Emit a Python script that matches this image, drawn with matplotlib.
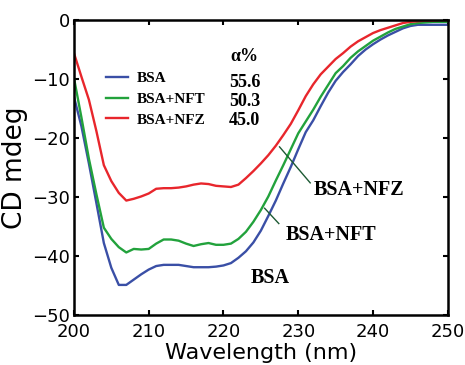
import numpy as np
import matplotlib
matplotlib.use('Agg')
import matplotlib.pyplot as plt

# wavelength grid (nm) and CD signal (mdeg)
wavelength = np.arange(200, 251, 1)

cd_bsa = [-13.0, -18.0, -24.3, -31.0, -37.8, -42.0, -44.9, -44.9, -44.0, -43.1,
          -42.3, -41.7, -41.5, -41.5, -41.5, -41.7, -41.9, -41.9, -41.9, -41.8,
          -41.6, -41.2, -40.3, -39.2, -37.7, -35.7, -33.2, -30.6, -27.7, -24.9,
          -21.9, -19.0, -17.0, -14.6, -12.3, -10.3, -8.8, -7.5, -6.1, -5.0,
          -4.1, -3.3, -2.6, -2.0, -1.4, -1.0, -0.8, -0.8, -0.8, -0.8, -0.8]

cd_nft = [-9.8, -16.5, -23.5, -29.5, -35.2, -37.1, -38.5, -39.4, -38.8, -38.9,
          -38.8, -37.9, -37.2, -37.2, -37.4, -37.9, -38.3, -38.0, -37.8, -38.1,
          -38.1, -37.9, -37.1, -35.9, -34.2, -32.2, -29.9, -27.2, -24.6, -21.9,
          -19.2, -17.2, -15.2, -13.0, -11.0, -9.0, -7.8, -6.4, -5.3, -4.4,
          -3.5, -2.8, -2.1, -1.5, -1.1, -0.7, -0.5, -0.4, -0.3, -0.3, -0.3]

cd_nfz = [-5.6, -9.6, -13.5, -18.8, -24.6, -27.3, -29.3, -30.6, -30.3, -29.9,
          -29.4, -28.6, -28.5, -28.5, -28.4, -28.2, -27.9, -27.7, -27.8, -28.1,
          -28.2, -28.3, -27.9, -26.8, -25.6, -24.3, -22.9, -21.3, -19.5, -17.6,
          -15.3, -12.9, -10.9, -9.2, -7.9, -6.6, -5.6, -4.5, -3.6, -2.9,
          -2.2, -1.7, -1.3, -0.9, -0.5, -0.3, -0.2, -0.1, -0.1, 0.0, 0.0]

series_names = ['BSA', 'BSA+NFT', 'BSA+NFZ']
series_colors = ['#3a4fa6', '#22a23c', '#e8262c']
alpha_pct = ['55.6', '50.3', '45.0']

x_ticks = [200, 210, 220, 230, 240, 250]
y_ticks = [-50, -40, -30, -20, -10, 0]

fig = plt.figure(figsize=(4.65, 3.65), dpi=100)
ax = fig.add_axes([0.159, 0.137, 0.804, 0.808])

for y, name, col in zip([cd_bsa, cd_nft, cd_nfz], series_names, series_colors):
    ax.plot(wavelength, y, color=col, linewidth=1.7, label=name)

ax.set_xlim(200, 250)
ax.set_ylim(-50, 0)
ax.set_xticks(x_ticks)
ax.set_yticks(y_ticks)
ax.tick_params(direction='in', top=True, right=True, length=3.5, width=1.5,
               labelsize=13, color='black')
ax.tick_params(axis='x', pad=6)
ax.tick_params(axis='y', pad=3)
for s in ax.spines.values():
    s.set_linewidth(1.8)

ax.set_xlabel('Wavelength (nm)', fontsize=16, labelpad=1)
ax.set_ylabel('CD mdeg', fontsize=19, labelpad=3)

# legend + alpha helix content
serif_bold = {'family': 'Liberation Serif', 'weight': 'bold'}
ax.legend(loc='upper left', bbox_to_anchor=(0.085, 0.825), frameon=False,
          prop=dict(serif_bold, size=11), handlelength=1.45, handletextpad=0.6,
          labelspacing=0.45, borderpad=0, borderaxespad=0)
ax.text(0.457, 0.875, 'α%', transform=ax.transAxes, ha='center', va='center',
        fontsize=13, **serif_bold)
for i, v in enumerate(alpha_pct):
    ax.text(0.457, 0.79 - i * 0.065, v, transform=ax.transAxes, ha='center',
            va='center', fontsize=13, **serif_bold)

# curve labels with pointer lines
ptr = '#1d5a34'
ax.text(238.1, -28.8, 'BSA+NFZ', ha='center', va='center', fontsize=14.5, **serif_bold)
ax.plot([227.5, 231.6], [-21.5, -27.6], color=ptr, linewidth=1.0)
ax.text(234.4, -36.4, 'BSA+NFT', ha='center', va='center', fontsize=14.5, **serif_bold)
ax.plot([225.5, 227.4], [-31.9, -34.5], color=ptr, linewidth=1.0)
ax.text(226.3, -43.7, 'BSA', ha='center', va='center', fontsize=14.5, **serif_bold)

fig.savefig('out.png', dpi=100)
